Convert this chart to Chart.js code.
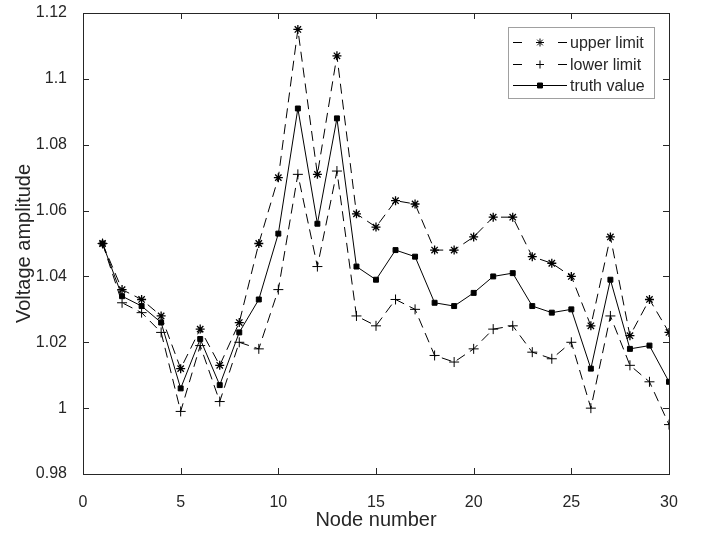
<!DOCTYPE html>
<html>
<head>
<meta charset="utf-8">
<script src="https://cdn.jsdelivr.net/npm/chart.js@4"></script>
<style>
  html, body { margin: 0; padding: 0; background: #fff; }
  #wrap { width: 707px; height: 535px; }
</style>
</head>
<body>
<div id="wrap"><canvas id="myChart" width="707" height="535"></canvas></div>
<script>
const nodes = [1,2,3,4,5,6,7,8,9,10,11,12,13,14,15,16,17,18,19,20,21,22,23,24,25,26,27,28,29,30];
const upperLimit = [1.050,1.036,1.033,1.028,1.012,1.024,1.013,1.026,1.050,1.070,1.115,1.071,1.107,1.059,1.055,1.063,1.062,1.048,1.048,1.052,1.058,1.058,1.046,1.044,1.040,1.025,1.052,1.022,1.033,1.023];
const lowerLimit = [1.050,1.032,1.029,1.023,0.999,1.019,1.002,1.020,1.018,1.036,1.071,1.043,1.072,1.028,1.025,1.033,1.030,1.016,1.014,1.018,1.024,1.025,1.017,1.015,1.020,1.000,1.028,1.013,1.008,0.995];
const truthValue = [1.050,1.034,1.031,1.026,1.006,1.021,1.007,1.023,1.033,1.053,1.091,1.056,1.088,1.043,1.039,1.048,1.046,1.032,1.031,1.035,1.040,1.041,1.031,1.029,1.030,1.012,1.039,1.018,1.019,1.008];
const xTicks = [0,5,10,15,20,25,30];
const yTicks = [0.98,1,1.02,1.04,1.06,1.08,1.1,1.12];
const seriesNames = ['upper limit','lower limit','truth value'];

const ink = '#262626';
const fam = '"Liberation Sans", Arial, sans-serif';
const pts = arr => arr.map((v, i) => ({ x: nodes[i], y: v }));

// MATLAB-style box with inward ticks + custom legend
const boxPlugin = {
  id: 'box',
  afterDraw(chart) {
    const { ctx, chartArea: a, scales } = chart;
    ctx.save();
    ctx.strokeStyle = ink;
    ctx.lineWidth = 1;
    ctx.setLineDash([]);
    ctx.strokeRect(a.left + 0.5, a.top + 0.5, a.right - a.left, a.bottom - a.top);
    const t = 6;
    ctx.beginPath();
    xTicks.forEach(v => {
      const px = Math.round(scales.x.getPixelForValue(v)) + 0.5;
      ctx.moveTo(px, a.bottom); ctx.lineTo(px, a.bottom - t);
      ctx.moveTo(px, a.top); ctx.lineTo(px, a.top + t);
    });
    yTicks.forEach(v => {
      const py = Math.round(scales.y.getPixelForValue(v)) + 0.5;
      ctx.moveTo(a.left, py); ctx.lineTo(a.left + t, py);
      ctx.moveTo(a.right, py); ctx.lineTo(a.right - t, py);
    });
    ctx.stroke();

    // legend
    const lx = 508, ly = 27, lw = 146, lh = 71;
    ctx.fillStyle = '#fff';
    ctx.fillRect(lx, ly, lw, lh);
    ctx.strokeStyle = '#a0a0a0';
    ctx.strokeRect(lx + 0.5, ly + 0.5, lw, lh);
    ctx.font = '16px ' + fam;
    ctx.textBaseline = 'middle';
    chart.data.datasets.forEach((ds, i) => {
      const y = Math.round(ly + 15 + i * 21.5) + 0.5;
      ctx.strokeStyle = '#000';
      ctx.beginPath();
      if (ds.borderDash) {
        ctx.moveTo(lx + 5, y); ctx.lineTo(lx + 14, y);
        ctx.moveTo(lx + 50, y); ctx.lineTo(lx + 59, y);
      } else {
        ctx.moveTo(lx + 5, y); ctx.lineTo(lx + 59, y);
      }
      ctx.stroke();
      ctx.fillStyle = '#000';
      Chart.helpers.drawPoint(ctx, {
        pointStyle: ds.pointStyle, radius: ds.pointStyle === 'rect' ? 3.5 : 4, rotation: 0, borderWidth: 1.3
      }, lx + 32, y);
      ctx.fillStyle = ink;
      ctx.fillText(ds.label, lx + 62, y + 1);
    });
    ctx.restore();
  }
};

new Chart(document.getElementById('myChart'), {
  type: 'line',
  data: {
    datasets: [
      {
        label: seriesNames[0],
        data: pts(upperLimit),
        borderColor: '#000', backgroundColor: '#000',
        borderWidth: 1, borderDash: [10, 6],
        pointStyle: 'star', pointRadius: 4.5, pointBorderWidth: 1.3,
        tension: 0
      },
      {
        label: seriesNames[1],
        data: pts(lowerLimit),
        borderColor: '#000', backgroundColor: '#000',
        borderWidth: 1, borderDash: [10, 6],
        pointStyle: 'cross', pointRadius: 5, pointBorderWidth: 1,
        tension: 0
      },
      {
        label: seriesNames[2],
        data: pts(truthValue),
        borderColor: '#000', backgroundColor: '#000',
        borderWidth: 1,
        pointStyle: 'rect', pointRadius: 3.5, pointBorderWidth: 1,
        tension: 0
      }
    ]
  },
  options: {
    responsive: false,
    animation: false,
    layout: { padding: { left: 0, right: 38, top: 13, bottom: 0 } },
    plugins: {
      legend: { display: false },
      tooltip: { enabled: false }
    },
    scales: {
      x: {
        type: 'linear', min: 0, max: 30,
        afterBuildTicks: s => { s.ticks = xTicks.map(v => ({ value: v })); },
        afterFit: s => { s.height = 61; s.paddingLeft = 0; s.paddingRight = 0; },
        grid: { display: false },
        border: { display: false },
        ticks: { color: ink, padding: 11, font: { family: fam, size: 16 } },
        title: {
          display: true, text: 'Node number', color: ink,
          font: { family: fam, size: 20 },
          padding: { top: 0, bottom: 3 }
        }
      },
      y: {
        type: 'linear', min: 0.98, max: 1.12,
        afterBuildTicks: s => { s.ticks = yTicks.map(v => ({ value: v })); },
        afterFit: s => { s.width = 83; s.paddingTop = 0; s.paddingBottom = 0; },
        grid: { display: false },
        border: { display: false },
        ticks: {
          color: ink, padding: 8,
          font: { family: fam, size: 16 },
          callback: v => String(Math.round(v * 100) / 100)
        },
        title: {
          display: true, text: 'Voltage amplitude', color: ink,
          font: { family: fam, size: 20 },
          padding: { top: 12, bottom: 0 }
        }
      }
    }
  },
  plugins: [boxPlugin]
});
</script>
</body>
</html>
